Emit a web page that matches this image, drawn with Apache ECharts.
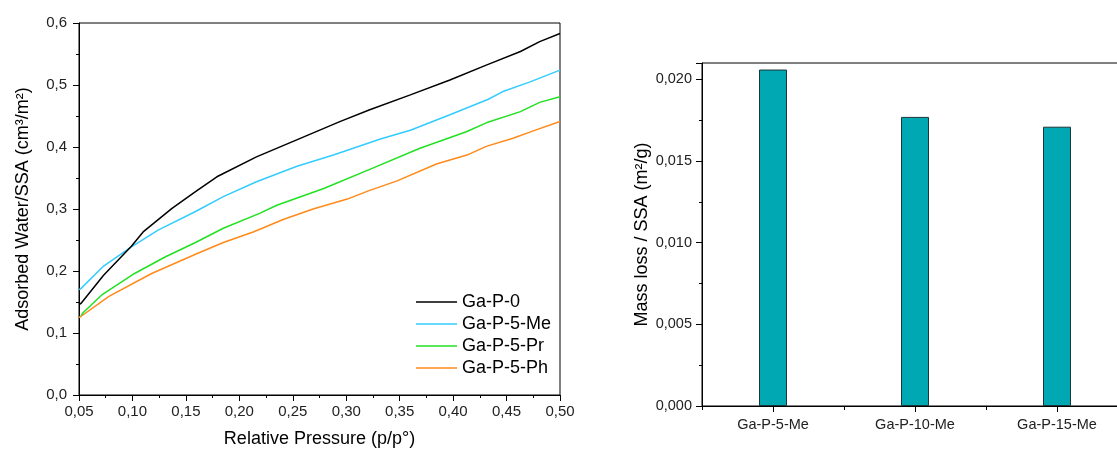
<!DOCTYPE html>
<html>
<head>
<meta charset="utf-8">
<script src="https://cdn.jsdelivr.net/npm/echarts@6/dist/echarts.min.js"></script>
<style>html,body{margin:0;padding:0;background:#fff}#c{width:1117px;height:450px}</style>
</head>
<body>
<div id="c"></div>
<script>
// ---- Left chart: adsorption isotherms [p/p°, adsorbed water/SSA] ----
var seriesNames = ['Ga-P-0', 'Ga-P-5-Me', 'Ga-P-5-Pr', 'Ga-P-5-Ph'];
var gaP0 = [[0.050,0.146],[0.052,0.148],[0.073,0.193],[0.099,0.240],[0.110,0.263],[0.137,0.301],[0.159,0.328],[0.179,0.352],[0.216,0.384],[0.257,0.414],[0.294,0.441],[0.322,0.460],[0.360,0.484],[0.397,0.508],[0.431,0.532],[0.463,0.554],[0.481,0.570],[0.500,0.583]];
var gaP5Me = [[0.050,0.170],[0.052,0.172],[0.073,0.208],[0.099,0.239],[0.124,0.266],[0.159,0.296],[0.185,0.320],[0.216,0.344],[0.254,0.369],[0.288,0.387],[0.310,0.400],[0.332,0.413],[0.360,0.427],[0.397,0.452],[0.433,0.477],[0.446,0.489],[0.472,0.505],[0.500,0.524]];
var gaP5Pr = [[0.052,0.128],[0.054,0.133],[0.071,0.161],[0.102,0.196],[0.131,0.223],[0.159,0.246],[0.185,0.269],[0.219,0.293],[0.235,0.306],[0.279,0.333],[0.322,0.364],[0.369,0.398],[0.413,0.425],[0.431,0.439],[0.463,0.457],[0.481,0.472],[0.500,0.481]];
var gaP5Ph = [[0.050,0.125],[0.052,0.127],[0.078,0.159],[0.118,0.196],[0.159,0.227],[0.185,0.246],[0.213,0.263],[0.241,0.283],[0.269,0.300],[0.301,0.316],[0.322,0.330],[0.347,0.345],[0.385,0.373],[0.413,0.387],[0.431,0.401],[0.456,0.414],[0.475,0.426],[0.500,0.441]];
var lineColors = ['#000000', '#33ccff', '#22e022', '#ff8a1a'];

// ---- Right chart: mass loss / SSA ----
var barCategories = ['Ga-P-5-Me', 'Ga-P-10-Me', 'Ga-P-15-Me'];
var barValues = [0.0206, 0.0177, 0.0171];

var FONT = 'Liberation Sans, Arial, sans-serif';
var chart = echarts.init(document.getElementById('c'), null, {renderer: 'canvas'});

function comma(v, d) { return v.toFixed(d).replace('.', ','); }

var lineSeriesData = [gaP0, gaP5Me, gaP5Pr, gaP5Ph];
var series = lineSeriesData.map(function (d, i) {
  return {
    name: seriesNames[i], type: 'line', xAxisIndex: 0, yAxisIndex: 0,
    data: d, showSymbol: false, symbol: 'none', smooth: false,
    lineStyle: {color: lineColors[i], width: 1.5},
    itemStyle: {color: lineColors[i]},
    z: 10 - i
  };
});
series.push({
  type: 'bar', xAxisIndex: 1, yAxisIndex: 1, data: barValues, barWidth: 28,
  itemStyle: {color: '#00a8b3', borderColor: '#1c3538', borderWidth: 1}
});

chart.setOption({
  animation: false,
  backgroundColor: '#fff',
  textStyle: {fontFamily: FONT},
  legend: {
    data: seriesNames.map(function (n) { return {name: n, icon: 'rect'}; }),
    orient: 'vertical', left: 416, top: 293, padding: 0,
    itemWidth: 41, itemHeight: 1.6, itemGap: 4,
    textStyle: {fontSize: 18, color: '#000', fontFamily: FONT}
  },
  grid: [
    {left: 79, right: 557, top: 23, bottom: 55, containLabel: false, outerBoundsMode: 'none', show: true, borderColor: '#000', borderWidth: 1, backgroundColor: 'transparent'},
    {left: 702, width: 426, top: 63, bottom: 44, containLabel: false, outerBoundsMode: 'none', show: true, borderColor: '#000', borderWidth: 1, backgroundColor: 'transparent'}
  ],
  xAxis: [
    {
      type: 'value', gridIndex: 0, min: 0.05, max: 0.5, interval: 0.05,
      name: 'Relative Pressure (p/p°)', nameLocation: 'middle', nameGap: 35,
      nameTextStyle: {fontSize: 18, color: '#000', fontFamily: FONT},
      axisLine: {show: true, lineStyle: {color: '#000', width: 1}},
      axisTick: {show: true, length: 6, lineStyle: {color: '#000'}},
      minorTick: {show: true, splitNumber: 2, length: 3, lineStyle: {color: '#000'}},
      splitLine: {show: false},
      axisLabel: {fontSize: 15, color: '#222', margin: 9, fontFamily: FONT, formatter: function (v) { return comma(v, 2); }}
    },
    {
      type: 'category', gridIndex: 1, data: barCategories,
      axisLine: {show: true, lineStyle: {color: '#000', width: 1}},
      axisTick: {show: true, alignWithLabel: true, length: 6, lineStyle: {color: '#000'}},
      splitLine: {show: false},
      axisLabel: {fontSize: 14.5, color: '#222', margin: 11, fontFamily: FONT}
    },
    {
      type: 'category', gridIndex: 1, data: barCategories, position: 'bottom',
      axisLine: {show: false},
      axisTick: {show: true, alignWithLabel: false, length: 4, lineStyle: {color: '#000'}},
      axisLabel: {show: false}, splitLine: {show: false}
    }
  ],
  yAxis: [
    {
      type: 'value', gridIndex: 0, min: 0, max: 0.6, interval: 0.1,
      name: 'Adsorbed Water/SSA (cm³/m²)', nameLocation: 'middle', nameGap: 47,
      nameTextStyle: {fontSize: 18, color: '#000', fontFamily: FONT},
      axisLine: {show: true, lineStyle: {color: '#000', width: 1}},
      axisTick: {show: true, length: 6, lineStyle: {color: '#000'}},
      minorTick: {show: true, splitNumber: 2, length: 3, lineStyle: {color: '#000'}},
      splitLine: {show: false},
      axisLabel: {fontSize: 15, color: '#222', margin: 12, fontFamily: FONT, formatter: function (v) { return comma(v, 1); }}
    },
    {
      type: 'value', gridIndex: 1, min: 0, max: 0.021, interval: 0.005,
      name: 'Mass loss / SSA (m²/g)', nameLocation: 'middle', nameGap: 51,
      nameTextStyle: {fontSize: 18, color: '#000', fontFamily: FONT},
      axisLine: {show: true, lineStyle: {color: '#000', width: 1}},
      axisTick: {show: true, length: 6, lineStyle: {color: '#000'}},
      minorTick: {show: true, splitNumber: 2, length: 3, lineStyle: {color: '#000'}},
      splitLine: {show: false},
      axisLabel: {fontSize: 14.5, color: '#222', margin: 10, fontFamily: FONT, showMaxLabel: false,
        formatter: function (v) { return Math.abs(v / 0.005 - Math.round(v / 0.005)) < 1e-6 ? comma(v, 3) : ''; }}
    }
  ],
  series: series
});
</script>
</body>
</html>
